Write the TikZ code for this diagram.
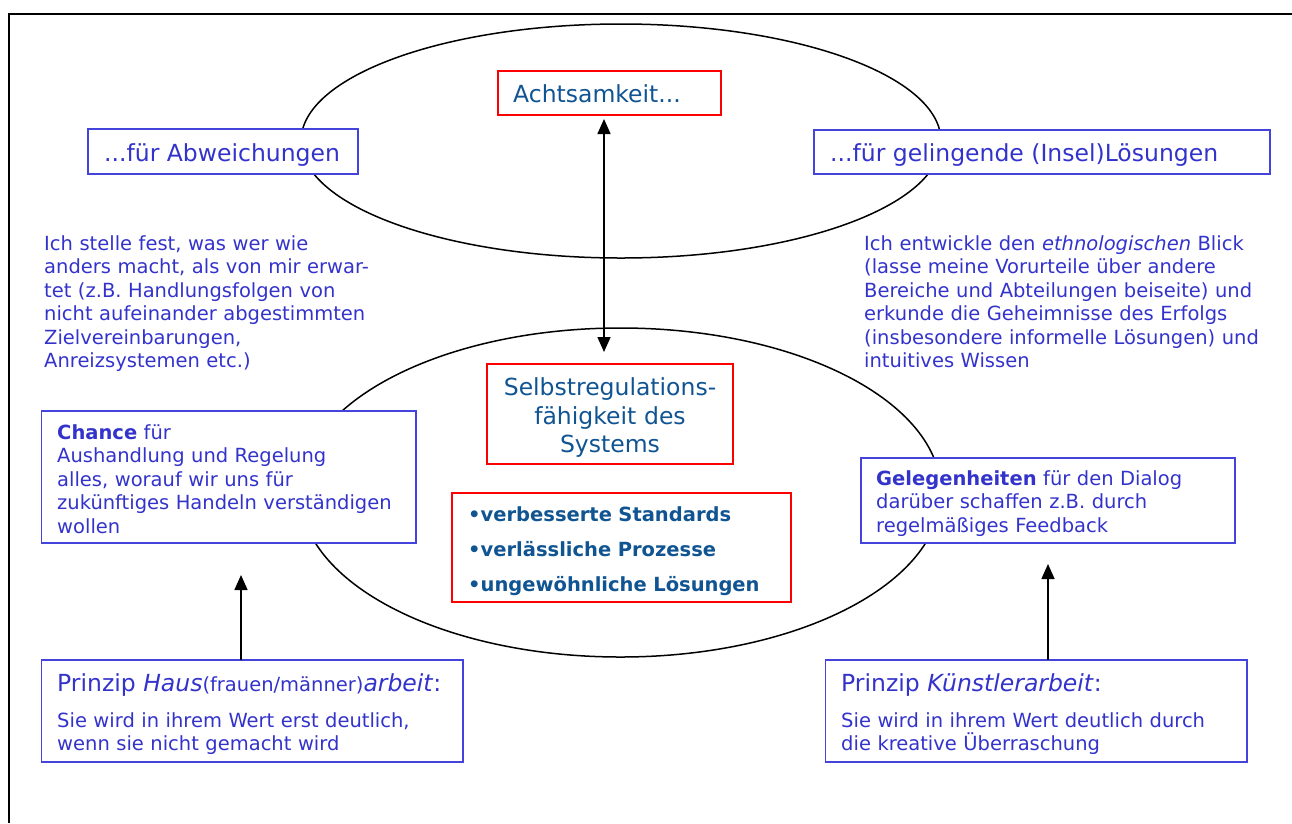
\documentclass[tikz,border=0pt]{standalone}
\usepackage{fontspec}
\setmainfont{DejaVu Sans}
\usetikzlibrary{arrows.meta,shapes.geometric}
\definecolor{txtblue}{RGB}{51,51,204}
\definecolor{boxblue}{RGB}{68,68,221}
\definecolor{dblue}{RGB}{16,84,146}
\definecolor{bred}{RGB}{255,0,0}
\newcommand{\myfs}[2]{\fontsize{#1}{#2}\selectfont\lineskiplimit=-100pt\relax}
\newcommand{\tstrut}{\rule{0pt}{20pt}}
\begin{document}
\begin{tikzpicture}[x=1pt,y=-1pt,
  bbox/.style={draw=boxblue,line width=1.8pt,fill=white,inner sep=0pt,outer sep=0pt,anchor=north west},
  rbox/.style={draw=bred,line width=1.6pt,fill=white,inner sep=0pt,outer sep=0pt,anchor=north west},
  para/.style={inner sep=0pt,anchor=north west,align=left,text width=#1,text=txtblue,font=\myfs{19.5}{23.5}},
  para/.default=420pt,
  title/.style={inner sep=0pt,anchor=base west,text=txtblue,font=\myfs{23.5}{28.5}},
  oval/.style={draw=black,line width=1.5pt,ellipse,inner sep=0pt,outer sep=0pt},
  arr/.style={line width=1.6pt,-{Triangle[length=15pt,width=13pt]}},
  darr/.style={line width=1.6pt,{Triangle[length=15pt,width=13pt]}-{Triangle[length=15pt,width=13pt]}},
]
\useasboundingbox (0,0) rectangle (1292,823);
% frame
\draw[line width=2.2pt] (1292,14) -- (9,14) -- (9,823);

% ellipses
\node[oval,minimum width=640pt,minimum height=234pt] (topoval) at (621,141) {};
\node[oval,minimum width=641pt,minimum height=329pt] (botoval) at (620.5,492.5) {};

% boxes
\node[rbox,minimum width=223pt,minimum height=44pt] (acht) at (498,71) {};
\node[bbox,minimum width=270pt,minimum height=45pt] (abw) at (88,129) {};
\node[bbox,minimum width=456pt,minimum height=44pt] (gel) at (814,130) {};
\node[rbox,minimum width=246pt,minimum height=100pt] (selbst) at (487,364) {};
\node[rbox,minimum width=339pt,minimum height=109pt] (bull) at (452,493) {};
\node[bbox,minimum width=374.5pt,minimum height=132pt] (chance) at (41.5,411) {};
\node[bbox,minimum width=374pt,minimum height=85pt] (geleg) at (861,458) {};
\node[bbox,minimum width=421.5pt,minimum height=102pt] (haus) at (41.5,660) {};
\node[bbox,minimum width=421.5pt,minimum height=102pt] (kuen) at (825.5,660) {};

% texts
\node[title,text=dblue] (acht-t) at (513,102) {Achtsamkeit...};
\node[title] (abw-t) at (104,161) {...für Abweichungen};
\node[title] (gel-t) at (830,161) {...für gelingende (Insel)Lösungen};

\node[para] (left-t) at (44,230) {\tstrut Ich stelle fest, was wer wie\\
anders macht, als von mir erwar-\\
tet (z.B. Handlungsfolgen von\\
nicht aufeinander abgestimmten\\
Zielvereinbarungen,\\
Anreizsystemen etc.)};

\node[para] (right-t) at (864,230) {\tstrut Ich entwickle den \textit{ethnologischen} Blick\\
(lasse meine Vorurteile über andere\\
Bereiche und Abteilungen beiseite) und\\
erkunde die Geheimnisse des Erfolgs\\
(insbesondere informelle Lösungen) und\\
intuitives Wissen};

\node[inner sep=0pt,anchor=north,align=center,text width=240pt,text=dblue,font=\myfs{23.5}{28.5}] (selbst-t) at (610,375.5) {\tstrut Selbstregulations-\\fähigkeit des\\Systems};

\node[inner sep=0pt,anchor=north west,align=left,text width=330pt,text=dblue,font=\myfs{19.5}{35}\bfseries] (bull-t) at (468,501) {\tstrut •verbesserte Standards\\
•verlässliche Prozesse\\
•ungewöhnliche Lösungen};

\node[para] (chance-t) at (57,419) {\tstrut\textbf{Chance} für\\
Aushandlung und Regelung\\
alles, worauf wir uns für\\
zukünftiges Handeln verständigen\\
wollen};

\node[para] (geleg-t) at (876,465) {\tstrut\textbf{Gelegenheiten} für den Dialog\\
darüber schaffen z.B. durch\\
regelmäßiges Feedback};

\node[title] (haus-h) at (57,691.5) {Prinzip \textit{Haus}{\myfs{19.5}{23.5}(frauen/männer)}\textit{arbeit}:};
\node[para] (haus-t) at (57,707) {\tstrut Sie wird in ihrem Wert erst deutlich,\\
wenn sie nicht gemacht wird};

\node[title] (kuen-h) at (841,691.5) {Prinzip \textit{Künstlerarbeit}:};
\node[para] (kuen-t) at (841,707) {\tstrut Sie wird in ihrem Wert deutlich durch\\
die kreative Überraschung};

% connectors
\coordinate (ax) at (604,0);
\coordinate (lx) at (241,0);
\coordinate (rx) at (1048,0);
\draw[darr,shorten <=4pt,shorten >=12pt] (acht.south -| ax) -- (selbst.north -| ax);
\draw[arr,shorten >=32pt] (haus.north -| lx) -- (chance.south -| lx);
\draw[arr,shorten >=21pt] (kuen.north -| rx) -- (geleg.south -| rx);
\end{tikzpicture}
\end{document}
